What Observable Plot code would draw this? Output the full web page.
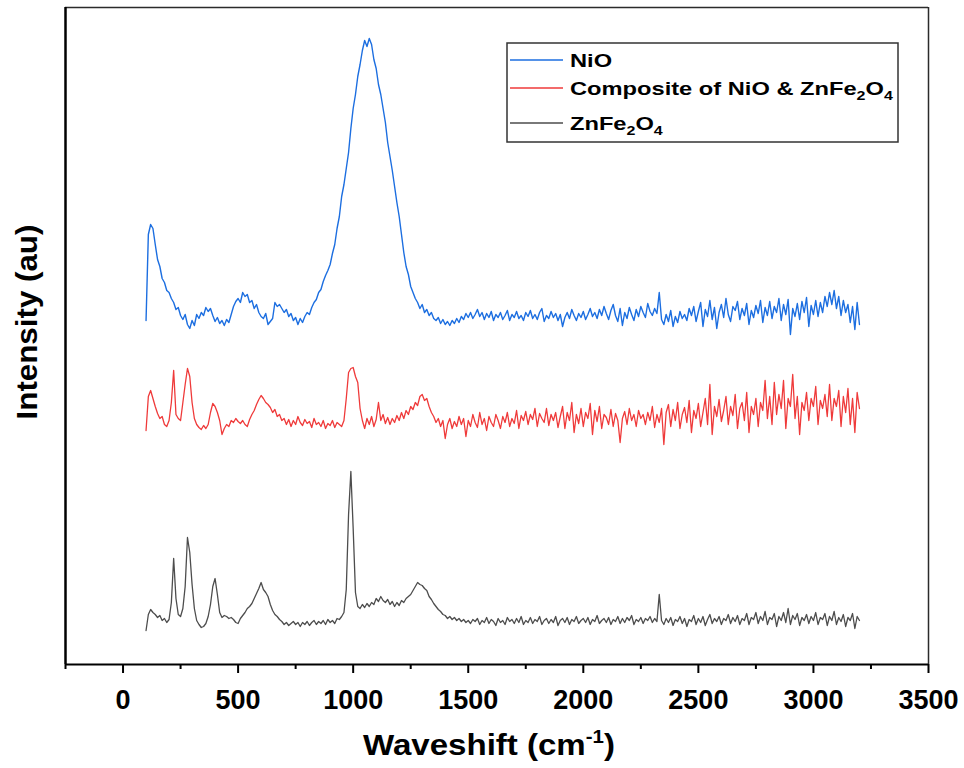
<!DOCTYPE html>
<html>
<head>
<meta charset="utf-8">
<script src="https://cdn.jsdelivr.net/npm/d3@7"></script>
<script src="https://cdn.jsdelivr.net/npm/@observablehq/plot@0.6"></script>
<style>
html,body{margin:0;padding:0;background:#fff;}
#chart svg{display:block;}
</style>
</head>
<body>
<div id="chart"></div>
<script>
// Raman shift (cm^-1) sampling positions
const wavenumber = [
100,110,120,130,140,150,160,170,180,190,
200,210,220,230,240,250,260,270,280,290,
300,310,320,330,340,350,360,370,380,390,
400,410,420,430,440,450,460,470,480,490,
500,510,520,530,540,550,560,570,580,590,
600,610,620,630,640,650,660,670,680,690,
700,710,720,730,740,750,760,770,780,790,
800,810,820,830,840,850,860,870,880,890,
900,910,920,930,940,950,960,970,980,990,
1000,1010,1020,1030,1040,1050,1060,1070,1080,1090,
1100,1110,1120,1130,1140,1150,1160,1170,1180,1190,
1200,1210,1220,1230,1240,1250,1260,1270,1280,1290,
1300,1310,1320,1330,1340,1350,1360,1370,1380,1390,
1400,1410,1420,1430,1440,1450,1460,1470,1480,1490,
1500,1510,1520,1530,1540,1550,1560,1570,1580,1590,
1600,1610,1620,1630,1640,1650,1660,1670,1680,1690,
1700,1710,1720,1730,1740,1750,1760,1770,1780,1790,
1800,1810,1820,1830,1840,1850,1860,1870,1880,1890,
1900,1910,1920,1930,1940,1950,1960,1970,1980,1990,
2000,2010,2020,2030,2040,2050,2060,2070,2080,2090,
2100,2110,2120,2130,2140,2150,2160,2170,2180,2190,
2200,2210,2220,2230,2240,2250,2260,2270,2280,2290,
2300,2310,2320,2330,2340,2350,2360,2370,2380,2390,
2400,2410,2420,2430,2440,2450,2460,2470,2480,2490,
2500,2510,2520,2530,2540,2550,2560,2570,2580,2590,
2600,2610,2620,2630,2640,2650,2660,2670,2680,2690,
2700,2710,2720,2730,2740,2750,2760,2770,2780,2790,
2800,2810,2820,2830,2840,2850,2860,2870,2880,2890,
2900,2910,2920,2930,2940,2950,2960,2970,2980,2990,
3000,3010,3020,3030,3040,3050,3060,3070,3080,3090,
3100,3110,3120,3130,3140,3150,3160,3170,3180,3190,
3200];

// NiO (offset, arbitrary units)
const nio = [
344,430,440,436,420,405,398,386,382,374,
372,366,362,355,357,349,345,350,340,336,
344,339,350,346,352,349,357,353,356,349,
343,347,341,344,339,345,342,350,358,363,
366,362,372,368,370,362,364,356,360,352,
348,346,351,340,343,346,362,358,360,356,
352,355,348,351,344,347,340,346,342,348,
352,350,357,362,365,372,375,383,389,394,
400,411,420,436,448,468,480,496,512,536,
556,570,588,600,614,624,618,626,620,605,
596,580,570,556,542,522,508,494,478,462,
448,430,412,398,390,378,372,366,362,356,
360,352,355,349,352,346,344,347,341,345,
340,343,339,344,341,346,342,348,345,351,
347,352,346,350,355,348,352,345,351,347,
353,344,350,347,352,345,349,354,344,350,
347,353,346,349,344,352,348,354,346,350,
345,352,356,343,349,346,353,347,351,344,
350,338,347,352,346,355,349,344,351,347,
353,345,350,356,348,352,346,355,349,358,
351,345,354,360,349,343,356,339,352,346,
357,350,344,355,348,358,352,347,361,353,
349,356,351,372,345,340,350,343,354,338,
348,342,353,346,350,344,356,349,358,343,
353,362,338,355,348,364,345,357,336,352,
360,347,366,350,343,358,354,363,345,356,
349,361,340,354,347,359,351,364,342,357,
349,363,346,358,352,366,344,360,350,365,
330,356,348,361,345,363,352,367,338,359,
350,364,348,362,352,368,358,372,360,374,
356,368,349,364,352,360,342,358,335,362,
340];

// Composite of NiO & ZnFe2O4 (offset, arbitrary units)
const composite = [
234,268,274,266,258,251,246,248,240,238,
244,262,294,250,246,244,262,280,296,288,
262,246,240,237,235,239,236,240,252,261,
258,252,244,230,236,240,238,244,242,246,
243,241,244,240,238,245,250,254,260,265,
269,266,262,260,257,252,255,248,250,244,
246,240,245,238,244,240,248,242,239,245,
241,243,237,246,240,242,238,244,236,241,
239,244,237,242,240,238,244,266,292,296,
297,288,282,256,244,236,246,240,248,238,
245,262,244,250,241,247,240,246,242,249,
244,252,246,254,250,258,255,262,259,268,
270,264,266,258,252,248,242,246,238,244,
226,240,246,236,243,238,248,240,246,228,
244,238,250,242,237,252,240,246,234,248,
242,238,250,244,236,248,242,252,238,246,
241,254,236,249,244,253,240,250,245,256,
238,251,246,242,256,239,250,244,252,237,
248,258,236,252,244,262,232,250,241,256,
238,252,246,261,230,254,243,258,236,250,
247,240,255,238,251,244,222,246,253,240,
256,244,250,238,254,246,250,240,252,244,
258,237,250,242,256,220,252,260,238,255,
244,262,236,250,257,242,264,232,254,246,
261,238,252,266,240,280,230,258,248,265,
243,254,268,240,258,249,270,236,256,262,
244,272,232,258,250,266,238,262,254,284,
246,268,240,282,250,270,256,284,236,266,
258,290,246,268,230,262,254,272,244,266,
258,278,240,264,256,270,248,280,244,266,
258,274,238,268,252,276,240,266,232,272,
256];

// ZnFe2O4 (arbitrary units)
const znfe2o4 = [
34,50,55,52,50,47,49,44,46,42,
45,62,106,66,50,48,56,78,127,112,
80,56,44,40,37,38,41,48,60,78,
86,70,52,47,49,48,46,47,45,42,
41,46,49,52,56,58,61,66,71,76,
82,75,72,68,60,54,50,48,45,43,
40,42,39,41,43,40,42,38,42,40,
43,39,42,44,40,43,41,44,40,45,
42,44,41,46,45,48,52,75,150,193,
136,72,58,56,60,57,61,58,62,60,
66,63,68,64,62,65,60,63,58,62,
59,64,62,66,68,70,74,78,82,80,
79,76,74,68,65,61,58,55,53,50,
49,46,48,45,47,44,46,43,45,42,
44,41,45,43,46,40,44,42,47,41,
45,43,39,46,42,44,40,47,43,45,
41,46,42,48,40,44,42,47,41,45,
43,48,40,44,46,41,45,42,48,39,
44,46,42,47,40,45,43,48,41,44,
46,42,47,40,45,43,49,41,44,46,
42,47,40,45,43,48,41,46,42,47,
44,49,40,45,43,47,41,46,44,48,
42,46,43,70,44,40,46,42,47,39,
45,43,48,41,46,38,45,43,49,40,
46,42,48,39,45,50,41,46,43,48,
40,46,44,50,41,47,43,49,40,46,
44,51,40,47,45,52,41,48,44,53,
40,47,45,51,38,48,44,52,42,56,
40,49,45,51,39,47,44,50,41,48,
44,52,40,47,45,51,39,48,44,53,
40,47,43,50,38,47,44,51,36,48,
44];

const majorTicks = [0,500,1000,1500,2000,2500,3000,3500];
const minorTicks = [-250,250,750,1250,1750,2250,2750,3250];
const seriesNames = ["NiO", "Composite of NiO & ZnFe2O4", "ZnFe2O4"];
const seriesColors = ["#1c6ee0", "#ef3a3a", "#4d4d4d"];

const xDomain = [-250, 3500];
const yDomain = [0, 657];

const FONT = "'Liberation Sans', Arial, Helvetica, sans-serif";

const lineFor = (values, color, w) =>
  Plot.line(values, {x: (d, i) => wavenumber[i], y: d => d, stroke: color, strokeWidth: w});

const chart = Plot.plot({
  width: 964,
  height: 768,
  marginLeft: 65,
  marginRight: 36,
  marginTop: 7,
  marginBottom: 104,
  style: {fontFamily: FONT, background: "#fff"},
  x: {domain: xDomain},
  y: {domain: yDomain, axis: null},
  marks: [
    Plot.ruleY([yDomain[1]], {stroke: "#2b2b2b", strokeWidth: 1.5}),
    Plot.ruleX([xDomain[1]], {stroke: "#2b2b2b", strokeWidth: 1.5}),
    lineFor(znfe2o4, seriesColors[2], 1.3),
    lineFor(composite, seriesColors[1], 1.3),
    lineFor(nio, seriesColors[0], 1.4),
    Plot.axisX({ticks: minorTicks, tickSize: 5, tickFormat: () => "", stroke: "#000", strokeWidth: 2, label: null}),
    Plot.axisX({ticks: majorTicks, tickSize: 9, tickPadding: 16, tickFormat: d => String(d),
      fontSize: 27, fontWeight: "bold", fill: "#000", stroke: "#000", strokeWidth: 2, label: null}),
    Plot.ruleY([yDomain[0]], {stroke: "#000", strokeWidth: 2}),
    Plot.ruleX([xDomain[0]], {stroke: "#000", strokeWidth: 2.5})
  ]
});

document.getElementById("chart").appendChild(chart);

const svg = d3.select(chart);

// axis titles
const xt = svg.append("text")
  .attr("transform", "translate(489,755) scale(1.14,1)")
  .attr("text-anchor", "middle")
  .attr("font-family", FONT).attr("font-weight", "bold").attr("font-size", 29).attr("fill", "#000");
xt.append("tspan").text("Waveshift (cm");
xt.append("tspan").attr("font-size", 18).attr("dy", -12).text("-1");
xt.append("tspan").attr("dy", 12).text(")");

svg.append("text")
  .attr("transform", "translate(37,322) rotate(-90) scale(1.08,1)")
  .attr("text-anchor", "middle")
  .attr("font-family", FONT).attr("font-weight", "bold").attr("font-size", 29).attr("fill", "#000")
  .text("Intensity (au)");

// legend
const lg = svg.append("g");
lg.append("rect").attr("x", 507).attr("y", 43).attr("width", 391).attr("height", 99)
  .attr("fill", "#fff").attr("stroke", "#333").attr("stroke-width", 1.5);
const rowsY = [60, 88, 123];
const baseY = [67, 95, 130];
function addLabel(g, name) {
  const m = name.match(/^(.*?)(ZnFe2O4)?$/);
  const pre = m[1];
  if (pre) g.append("tspan").text(pre);
  if (m[2]) {
    g.append("tspan").text("ZnFe");
    g.append("tspan").attr("font-size", 12.5).attr("dy", 5).text("2");
    g.append("tspan").attr("dy", -5).text("O");
    g.append("tspan").attr("font-size", 12.5).attr("dy", 5).text("4");
  }
}
seriesNames.forEach((name, i) => {
  lg.append("line").attr("x1", 510).attr("x2", 563).attr("y1", rowsY[i]).attr("y2", rowsY[i])
    .attr("stroke", seriesColors[i]).attr("stroke-width", 1.3);
  const t = lg.append("text")
    .attr("transform", `translate(570,${baseY[i]}) scale(1.28,1)`)
    .attr("text-anchor", "start")
    .attr("font-family", FONT).attr("font-weight", "bold").attr("font-size", 18.5).attr("fill", "#000");
  addLabel(t, name);
});
</script>
</body>
</html>
